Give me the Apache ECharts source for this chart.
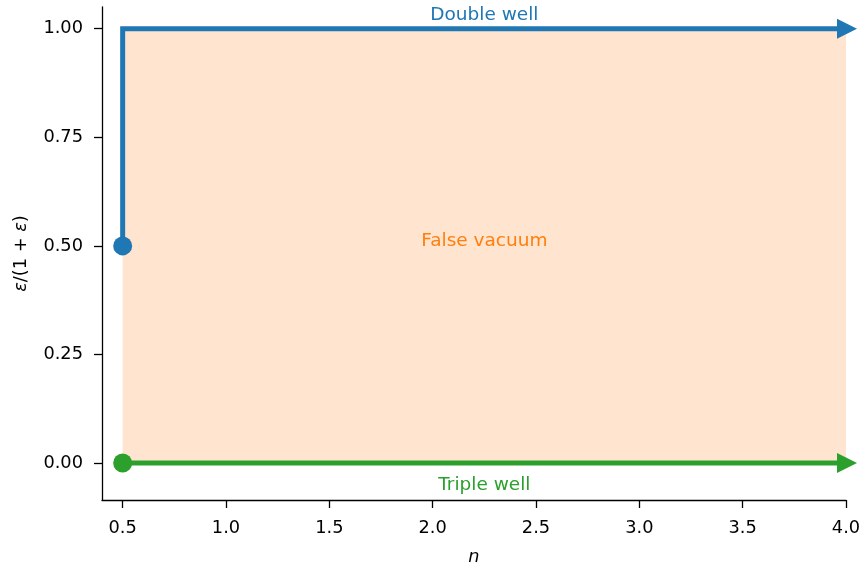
<!DOCTYPE html>
<html>
<head>
<meta charset="utf-8">
<script src="https://cdn.jsdelivr.net/npm/echarts@6/dist/echarts.min.js"></script>
<style>
html,body{margin:0;padding:0;background:#fff;}
#c{width:861px;height:563px;}
</style>
</head>
<body>
<div id="c"></div>
<script>
// Data
const xTicks = [0.5, 1.0, 1.5, 2.0, 2.5, 3.0, 3.5, 4.0];
const yTicks = [0.0, 0.25, 0.5, 0.75, 1.0];
const doubleWellPath = [[0.5, 0.5], [0.5, 1.0], [4.0, 1.0]];
const tripleWellPath = [[0.5, 0.0], [4.0, 0.0]];
const falseVacuumRegion = [[0.5, 0.0], [4.0, 1.0]];
const labels = [
  { text: 'Double well', x: 2.25, y: 1.03, color: '#1f77b4' },
  { text: 'False vacuum', x: 2.25, y: 0.51, color: '#ff7f0e' },
  { text: 'Triple well', x: 2.25, y: -0.052, color: '#2ca02c' }
];

const FONT = 'DejaVu Sans';
const FS = 17.8;
const FS_TEXT = 18.5;
const blue = '#1f77b4', green = '#2ca02c';

const chart = echarts.init(document.getElementById('c'), null, { renderer: 'canvas' });

function pathSeries(path, color) {
  return [
    {
      type: 'line', data: path, showSymbol: false, symbol: 'none',
      lineStyle: { color: color, width: 5, join: 'miter', cap: 'butt', opacity: 1 },
      z: 3, silent: true, animation: false
    },
    {
      type: 'scatter', data: [path[0]], symbol: 'circle', symbolSize: 19,
      itemStyle: { color: color, opacity: 1 }, z: 4, silent: true, animation: false
    },
    {
      type: 'scatter', data: [path[path.length - 1]], symbol: 'triangle',
      symbolRotate: -90, symbolSize: [20, 20], symbolOffset: [1, 0],
      itemStyle: { color: color, opacity: 1 }, z: 4, silent: true, animation: false
    }
  ];
}

const option = {
  animation: false,
  backgroundColor: '#fff',
  grid: { left: 102, right: 15, top: 7, bottom: 63, containLabel: false, outerBoundsMode: 'none' },
  xAxis: {
    type: 'value', min: 0.4, max: 4.0,
    name: 'n', nameLocation: 'middle', nameGap: 48,
    nameTextStyle: { fontFamily: FONT, fontSize: FS, fontStyle: 'italic', color: '#000' },
    axisLine: { show: true, onZero: false, lineStyle: { color: '#000', width: 1.3 } },
    axisTick: { show: true, length: 8, lineStyle: { color: '#000', width: 1.3 }, customValues: xTicks },
    axisLabel: { customValues: xTicks, fontFamily: FONT, fontSize: FS, color: '#000', margin: 19,
      formatter: v => v.toFixed(1) },
    splitLine: { show: false }
  },
  yAxis: {
    type: 'value', min: -0.085, max: 1.05,
    name: '{i|ε}/(1 + {i|ε})', nameLocation: 'middle', nameGap: 72, nameRotate: 90,
    nameTextStyle: { fontFamily: FONT, fontSize: FS, color: '#000',
      rich: { i: { fontFamily: FONT, fontSize: FS, fontStyle: 'italic', color: '#000' } } },
    axisLine: { show: true, onZero: false, lineStyle: { color: '#000', width: 1.3 } },
    axisTick: { show: true, length: 8, lineStyle: { color: '#000', width: 1.3 }, customValues: yTicks },
    axisLabel: { customValues: yTicks, fontFamily: FONT, fontSize: FS, color: '#000', margin: 19,
      formatter: v => v.toFixed(2) },
    splitLine: { show: false }
  },
  series: [
    {
      type: 'line', data: [], silent: true,
      markArea: {
        silent: true,
        itemStyle: { color: 'rgba(255,127,14,0.2)', opacity: 1 },
        data: [[{ coord: falseVacuumRegion[0] }, { coord: falseVacuumRegion[1] }]]
      },
      z: 1
    },
    ...pathSeries(doubleWellPath, blue),
    ...pathSeries(tripleWellPath, green),
    {
      type: 'scatter', symbolSize: 0, silent: true, z: 5,
      itemStyle: { opacity: 1 },
      data: labels.map(l => ({
        value: [l.x, l.y],
        label: { show: true, position: 'inside', formatter: l.text, color: l.color,
          fontFamily: FONT, fontSize: FS_TEXT, opacity: 1 }
      }))
    }
  ]
};
chart.setOption(option);
</script>
</body>
</html>
